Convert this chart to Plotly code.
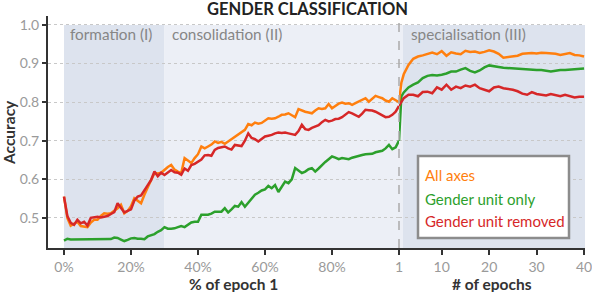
import plotly.graph_objects as go

# ---------------- data ----------------
pct = list(range(0, 101))  # % of epoch 1

all_axes_pct = [
    0.555, 0.500, 0.480, 0.485, 0.490, 0.479, 0.477, 0.476, 0.488, 0.495,
    0.495, 0.505, 0.512, 0.511, 0.512, 0.518, 0.525, 0.534, 0.512, 0.518,
    0.530, 0.551, 0.545, 0.538, 0.560, 0.581, 0.598, 0.616, 0.615, 0.617,
    0.625, 0.632, 0.637, 0.625, 0.620, 0.616, 0.655, 0.648, 0.642, 0.655,
    0.665, 0.685, 0.680, 0.685, 0.690, 0.698, 0.694, 0.697, 0.692, 0.698,
    0.704, 0.708, 0.715, 0.720, 0.728, 0.743, 0.740, 0.747, 0.744, 0.746,
    0.752, 0.758, 0.757, 0.758, 0.762, 0.767, 0.768, 0.771, 0.766, 0.761,
    0.782, 0.778, 0.775, 0.773, 0.771, 0.778, 0.784, 0.782, 0.784, 0.795,
    0.784, 0.790, 0.796, 0.799, 0.796, 0.797, 0.793, 0.797, 0.801, 0.806,
    0.810, 0.801, 0.808, 0.816, 0.813, 0.810, 0.804, 0.801, 0.810, 0.806,
    0.800,
]
gender_only_pct = [
    0.441, 0.446, 0.444, 0.444, 0.444, 0.444, 0.444, 0.444, 0.444, 0.444,
    0.444, 0.445, 0.445, 0.444, 0.445, 0.449, 0.448, 0.444, 0.440, 0.443,
    0.447, 0.448, 0.446, 0.446, 0.445, 0.452, 0.455, 0.458, 0.464, 0.468,
    0.476, 0.472, 0.472, 0.473, 0.476, 0.479, 0.476, 0.482, 0.488, 0.490,
    0.490, 0.508, 0.508, 0.508, 0.511, 0.516, 0.516, 0.516, 0.525, 0.514,
    0.522, 0.531, 0.529, 0.541, 0.529, 0.540, 0.551, 0.560, 0.565, 0.571,
    0.574, 0.583, 0.577, 0.585, 0.567, 0.580, 0.594, 0.590, 0.600, 0.629,
    0.622, 0.616, 0.620, 0.626, 0.629, 0.620, 0.628, 0.637, 0.645, 0.652,
    0.659, 0.656, 0.652, 0.655, 0.654, 0.652, 0.656, 0.659, 0.661, 0.663,
    0.665, 0.666, 0.666, 0.670, 0.672, 0.674, 0.680, 0.689, 0.678, 0.683,
    0.700,
]
gender_removed_pct = [
    0.555, 0.505, 0.487, 0.482, 0.495, 0.486, 0.490, 0.480, 0.500, 0.502,
    0.503, 0.501, 0.503, 0.505, 0.510, 0.515, 0.538, 0.527, 0.514, 0.518,
    0.522, 0.545, 0.555, 0.558, 0.570, 0.585, 0.598, 0.620, 0.608, 0.617,
    0.611, 0.618, 0.624, 0.618, 0.617, 0.612, 0.628, 0.622, 0.637, 0.640,
    0.646, 0.651, 0.662, 0.663, 0.661, 0.676, 0.681, 0.683, 0.685, 0.680,
    0.677, 0.689, 0.688, 0.686, 0.700, 0.719, 0.707, 0.704, 0.698, 0.705,
    0.711, 0.713, 0.715, 0.719, 0.721, 0.720, 0.721, 0.719, 0.717, 0.715,
    0.725, 0.741, 0.730, 0.728, 0.733, 0.737, 0.740, 0.748, 0.754, 0.750,
    0.752, 0.756, 0.757, 0.761, 0.768, 0.774, 0.771, 0.767, 0.762, 0.770,
    0.780, 0.779, 0.778, 0.775, 0.771, 0.765, 0.761, 0.762, 0.767, 0.775,
    0.790,
]

epochs = [1, 1.5, 2, 3, 4, 5, 6, 7, 8, 9, 10, 11, 12, 13, 14, 15, 16, 17, 18, 19,
          20, 21, 22, 23, 24, 25, 26, 27, 28, 29, 30, 31, 32, 33, 34, 35, 36, 37,
          38, 39, 40]
all_axes_ep = [
    0.800, 0.850, 0.872, 0.896, 0.912, 0.918, 0.921, 0.925, 0.928, 0.924,
    0.932, 0.920, 0.929, 0.926, 0.924, 0.933, 0.930, 0.931, 0.927, 0.930,
    0.934, 0.931, 0.925, 0.915, 0.917, 0.918, 0.920, 0.925, 0.926, 0.927,
    0.926, 0.928, 0.927, 0.926, 0.925, 0.922, 0.925, 0.927, 0.922, 0.921,
    0.918,
]
gender_only_ep = [
    0.700, 0.815, 0.825, 0.838, 0.845, 0.851, 0.862, 0.868, 0.870, 0.869,
    0.871, 0.874, 0.879, 0.879, 0.884, 0.888, 0.881, 0.877, 0.882, 0.890,
    0.895, 0.892, 0.891, 0.889, 0.888, 0.886, 0.885, 0.885, 0.884, 0.884,
    0.883, 0.883, 0.881, 0.879, 0.881, 0.883, 0.883, 0.884, 0.885, 0.886,
    0.887,
]
gender_removed_ep = [
    0.790, 0.800, 0.810, 0.819, 0.819, 0.815, 0.826, 0.827, 0.823, 0.838,
    0.832, 0.845, 0.832, 0.840, 0.836, 0.843, 0.840, 0.845, 0.836, 0.832,
    0.828, 0.838, 0.840, 0.836, 0.834, 0.832, 0.828, 0.822, 0.819, 0.826,
    0.821, 0.819, 0.817, 0.821, 0.818, 0.815, 0.819, 0.815, 0.812, 0.814,
    0.814,
]

series_names = ["All axes", "Gender unit only", "Gender unit removed"]
series_colors = ["#ff7f0e", "#2ca02c", "#d62728"]

pct_ticks = [0, 20, 40, 60, 80]
epoch_ticks = [1, 10, 20, 30, 40]
y_ticks = [0.5, 0.6, 0.7, 0.8, 0.9, 1.0]

# ---------------- figure ----------------
FONT = "Lato"
W, H = 592, 292
ML, MR, MT, MB = 48, 7, 16, 44
PW, PH = W - ML - MR, H - MT - MB
split = (399 - ML) / PW

def px_x(px):
    return (px - ML) / PW

def px_y(py):
    return (H - MB - py) / PH

fig = go.Figure()

left = {"All axes": all_axes_pct, "Gender unit only": gender_only_pct,
        "Gender unit removed": gender_removed_pct}
right = {"All axes": all_axes_ep, "Gender unit only": gender_only_ep,
         "Gender unit removed": gender_removed_ep}
order = [1, 0, 2]
for i in order:
    name, col = series_names[i], series_colors[i]
    fig.add_trace(go.Scatter(x=pct, y=left[name], mode="lines", name=name,
                             line=dict(color=col, width=2.5), showlegend=False,
                             xaxis="x", yaxis="y"))
    fig.add_trace(go.Scatter(x=epochs, y=right[name], mode="lines", name=name,
                             line=dict(color=col, width=2.5), showlegend=False,
                             xaxis="x2", yaxis="y"))

dark = "rgb(221,227,238)"
light = "rgb(236,239,246)"
shapes = [
    dict(type="rect", xref="x", yref="y", x0=0, x1=30, y0=0.3, y1=1.0,
         fillcolor=dark, line=dict(width=0), layer="below"),
    dict(type="rect", xref="x", yref="y", x0=30, x1=100, y0=0.3, y1=1.0,
         fillcolor=light, line=dict(width=0), layer="below"),
    dict(type="rect", xref="x2", yref="y", x0=1, x1=1.85, y0=0.3, y1=1.0,
         fillcolor=light, line=dict(width=0), layer="below"),
    dict(type="rect", xref="x2", yref="y", x0=1.85, x1=41, y0=0.3, y1=1.0,
         fillcolor=dark, line=dict(width=0), layer="below"),
    dict(type="line", xref="paper", yref="paper", x0=split, x1=split, y0=0, y1=1,
         line=dict(color="#aaaaaa", width=1.5, dash="dash"), layer="above"),
    # legend box
    dict(type="rect", xref="paper", yref="paper",
         x0=px_x(418), x1=px_x(569), y0=px_y(238), y1=px_y(156),
         fillcolor="white", line=dict(color="#8c8c8c", width=2.5), layer="above"),
]

annotations = [
    dict(text="<b>GENDER CLASSIFICATION</b>", xref="paper", yref="paper",
         x=px_x(307), y=px_y(9), xanchor="center", yanchor="middle",
         showarrow=False, font=dict(family=FONT, size=16.5, color="#222222")),
    dict(text="formation (I)", xref="x", yref="y", x=1.2, y=1.0,
         xanchor="left", yanchor="top", yshift=2, showarrow=False,
         font=dict(family=FONT, size=15.3, color="#868686")),
    dict(text="consolidation (II)", xref="x", yref="y", x=31.6, y=1.0,
         xanchor="left", yanchor="top", yshift=2, showarrow=False,
         font=dict(family=FONT, size=15.3, color="#868686")),
    dict(text="specialisation (III)", xref="x2", yref="y", x=3.1, y=1.0,
         xanchor="left", yanchor="top", yshift=2, showarrow=False,
         font=dict(family=FONT, size=15.3, color="#868686")),
    dict(text="<b>Accuracy</b>", xref="paper", yref="paper", x=px_x(9), y=0.5,
         xanchor="center", yanchor="middle", textangle=-90, showarrow=False,
         font=dict(family=FONT, size=15.5, color="#333333")),
    dict(text="<b>% of epoch 1</b>", xref="paper", yref="paper", x=px_x(233),
         y=px_y(284), xanchor="center", yanchor="middle", showarrow=False,
         font=dict(family=FONT, size=15.5, color="#333333")),
    dict(text="<b># of epochs</b>", xref="paper", yref="paper", x=px_x(492),
         y=px_y(284), xanchor="center", yanchor="middle", showarrow=False,
         font=dict(family=FONT, size=15.5, color="#333333")),
]
for i, yy in enumerate([175, 199, 221]):
    annotations.append(dict(text=series_names[i], xref="paper", yref="paper",
                            x=px_x(423), y=px_y(yy), xanchor="left", yanchor="middle",
                            showarrow=False,
                            font=dict(family=FONT, size=15, color=series_colors[i])))

axis_common = dict(showgrid=False, zeroline=False, showline=True, linecolor="#333333",
                   linewidth=2, ticks="outside", tickcolor="#333333", ticklen=5,
                   tickwidth=1.5, ticklabeloverflow="allow", automargin=False,
                   tickfont=dict(family=FONT, size=14, color="#9a9a9a"))

fig.update_layout(
    width=W, height=H,
    margin=dict(l=ML, r=MR, t=MT, b=MB, autoexpand=False),
    paper_bgcolor="white", plot_bgcolor="white",
    font=dict(family=FONT),
    xaxis=dict(domain=[0, split], range=[-16 / 3.35, 100], tickvals=pct_ticks,
               ticktext=[f"{t}%" for t in pct_ticks], anchor="y", **axis_common),
    xaxis2=dict(domain=[split, 1], range=[1, 40.2], tickvals=epoch_ticks,
                ticktext=[str(t) for t in epoch_ticks], anchor="y", **axis_common),
    yaxis=dict(range=[0.422, 1.023], tickvals=y_ticks,
               ticktext=[f"{t:.1f}" for t in y_ticks], anchor="x",
               showgrid=True, gridcolor="#c8c8c8", griddash="dot", gridwidth=1,
               zeroline=False, showline=True, linecolor="#333333", linewidth=2,
               ticks="outside", tickcolor="#333333", ticklen=4, tickwidth=1.5,
               automargin=False,
               tickfont=dict(family=FONT, size=14, color="#9a9a9a")),
    shapes=shapes,
    annotations=annotations,
)

fig.write_html("out.html", config={"displayModeBar": False},
               post_script="document.body.style.margin='0px';"
                           "document.body.style.padding='0px';")
